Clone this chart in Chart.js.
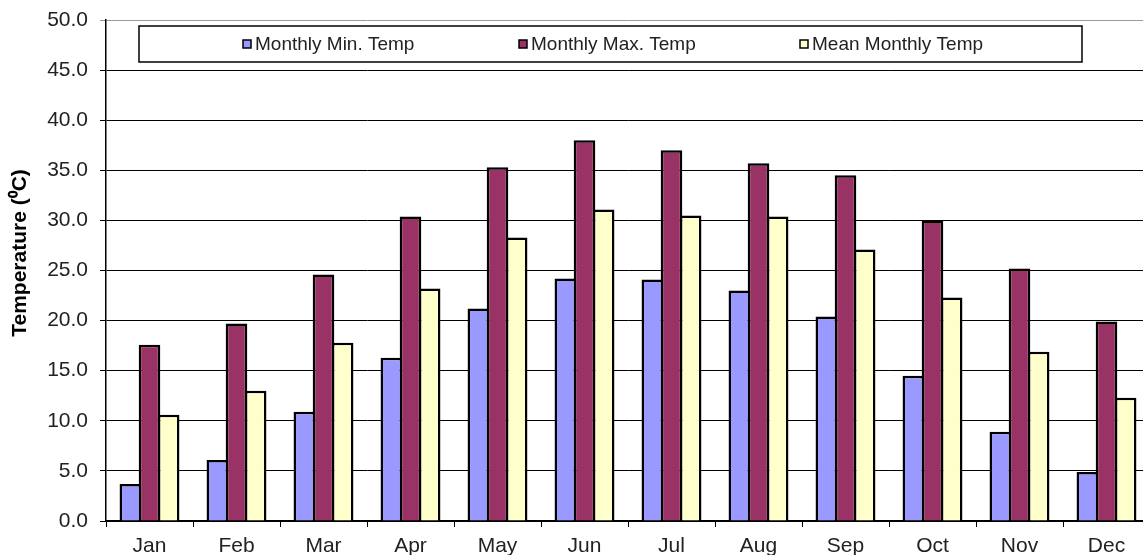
<!DOCTYPE html>
<html>
<head>
<meta charset="utf-8">
<script src="https://cdn.jsdelivr.net/npm/chart.js@4"></script>
<style>
    html, body { margin: 0; padding: 0; background: #fff; overflow: hidden; }
    #wrap { width: 1150px; height: 555px; position: relative; }
</style>
</head>
<body>
<div id="wrap"><canvas id="tempChart"></canvas></div>
<script>
// --- data ---
const months = ['Jan', 'Feb', 'Mar', 'Apr', 'May', 'Jun', 'Jul', 'Aug', 'Sep', 'Oct', 'Nov', 'Dec'];
const minTemp  = [3.7, 6.1, 10.9, 16.3, 21.2, 24.2, 24.1, 23.0, 20.4, 14.5, 8.9, 4.9];
const maxTemp  = [17.6, 19.7, 24.6, 30.4, 35.3, 38.0, 37.0, 35.7, 34.5, 30.0, 25.2, 19.9];
const meanTemp = [10.6, 13.0, 17.8, 23.2, 28.3, 31.1, 30.5, 30.4, 27.1, 22.3, 16.9, 12.3];
const seriesNames = ['Monthly Min. Temp', 'Monthly Max. Temp', 'Mean Monthly Temp'];
const yTitle = 'Temperature (⁰C)';

const FONT = "'Liberation Sans', Arial, sans-serif";

// legend drawn inside the plot, boxed like the excel one (+ the y title, placed a bit above centre)
const boxedLegend = {
    id: 'boxedLegend',
    afterDraw(chart) {
        const ctx = chart.ctx;
        const a = chart.chartArea;
        const x = a.left + 33, y = a.top + 6, w = 943, h = 36;
        const itemX = [104, 380, 661]; // marker offsets inside the box
        ctx.save();
        ctx.fillStyle = '#fff';
        ctx.fillRect(x, y, w, h);
        ctx.strokeStyle = '#000';
        ctx.lineWidth = 1.5;
        ctx.strokeRect(x, y, w, h);
        ctx.font = '19px ' + FONT;
        ctx.textBaseline = 'middle';
        chart.data.datasets.forEach((ds, i) => {
            const mx = x + itemX[i], my = y + h / 2;
            ctx.fillStyle = ds.backgroundColor;
            ctx.fillRect(mx, my - 4, 8, 8);
            ctx.strokeStyle = '#000';
            ctx.lineWidth = 1.5;
            ctx.strokeRect(mx, my - 4, 8, 8);
            ctx.fillStyle = '#222';
            ctx.fillText(ds.label, mx + 12, my + 1);
        });

        // y axis title
        ctx.translate(20, 253);
        ctx.rotate(-Math.PI / 2);
        ctx.font = 'bold 21px ' + FONT;
        ctx.fillStyle = '#000';
        ctx.textAlign = 'center';
        ctx.textBaseline = 'middle';
        ctx.fillText(yTitle, 0, 0);
        ctx.restore();
    }
};

const barStyle = {
    borderColor: '#000',
    borderWidth: 2.5,
    categoryPercentage: 0.66,
    barPercentage: 1.13
};

new Chart(document.getElementById('tempChart'), {
    type: 'bar',
    data: {
        labels: months,
        datasets: [
            { label: seriesNames[0], data: minTemp,  backgroundColor: '#9999ff', ...barStyle },
            { label: seriesNames[1], data: maxTemp,  backgroundColor: '#993366', ...barStyle },
            { label: seriesNames[2], data: meanTemp, backgroundColor: '#ffffcc', ...barStyle }
        ]
    },
    options: {
        responsive: true,
        maintainAspectRatio: false,
        animation: false,
        layout: { padding: { top: 20, left: 0, right: 0, bottom: 0 } },
        plugins: {
            legend: { display: false },
            tooltip: { enabled: false }
        },
        scales: {
            x: {
                afterFit: s => { s.height = 34; },
                grid: {
                    offset: true,
                    drawOnChartArea: false,
                    tickLength: 6,
                    color: '#000',
                    lineWidth: 1
                },
                border: { color: '#000', width: 1.5 },
                ticks: { color: '#222', padding: 7, font: { family: FONT, size: 21 } }
            },
            y: {
                min: 0,
                max: 50,
                afterFit: s => { s.width = 106; s.paddingTop = 0; s.paddingBottom = 0; },
                ticks: {
                    stepSize: 5,
                    color: '#222',
                    padding: 12,
                    font: { family: FONT, size: 21 },
                    callback: v => v.toFixed(1)
                },
                grid: {
                    tickLength: 6,
                    color: c => c.tick && c.tick.value === 50 ? '#9a9a9a' : '#000',
                    lineWidth: 1
                },
                border: { color: '#000', width: 1.5 }
            }
        }
    },
    plugins: [boxedLegend]
});
</script>
</body>
</html>
